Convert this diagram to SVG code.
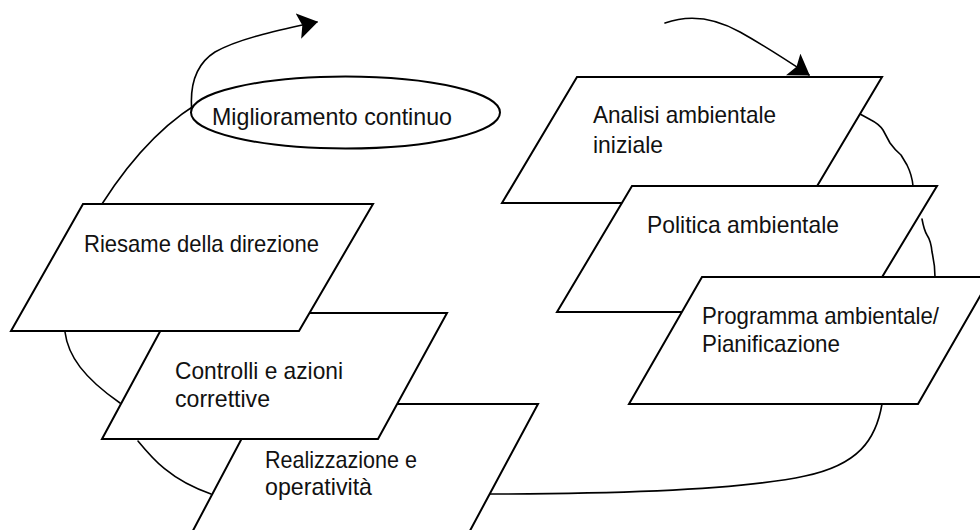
<svg xmlns="http://www.w3.org/2000/svg" width="980" height="530" viewBox="0 0 980 530">
  <style>
    .bg { fill: #ffffff; }
    .shape { fill: #ffffff; stroke: #000000; stroke-width: 2; stroke-linejoin: miter; }
    .conn { fill: none; stroke: #000000; stroke-width: 1.6; stroke-linecap: round; stroke-linejoin: round; }
    .lbl { font-family: "Liberation Sans", Arial, sans-serif; font-size: 24px; fill: #111111; }
  </style>
  <defs>
    <marker id="arrow" markerUnits="userSpaceOnUse" viewBox="0 0 20 26" refX="19" refY="13" markerWidth="20" markerHeight="26" orient="auto">
      <path d="M0,0 L20,13 L0,26 L4,13 z" fill="#000000"/>
    </marker>
  </defs>
  <rect class="bg" x="0" y="0" width="980" height="530"/>

  <g id="connectors">
    <path class="conn" d="M102,204 C125,168 160,122 211,96"/>
    <path class="conn" d="M192,113 C189,84 196,64 215,52 C240,38 280,30 317,22" marker-end="url(#arrow)"/>
    <path class="conn" d="M665,23 C690,14 715,18 740,32 C765,46 788,61 809,75" marker-end="url(#arrow)"/>
    <path class="conn" d="M860,114 L871,120 Q879,124 883,130 L890,143 Q895,150 901,155 L907,165 Q912,175 913,186"/>
    <path class="conn" d="M922,219 Q924,230 927,235 Q931,241 932,252 Q935,265 935,277"/>
    <path class="conn" d="M882,404 C876,440 858,465 805,476 C740,490 620,494 488,494"/>
    <path class="conn" d="M65,332 C68,356 84,378 120,403"/>
    <path class="conn" d="M138,441 C152,458 170,480 211,494"/>
  </g>

  <g id="node-miglioramento">
    <ellipse class="shape" cx="345.5" cy="112.5" rx="154.5" ry="36"/>
    <text class="lbl" x="212" y="125" textLength="240" lengthAdjust="spacingAndGlyphs">Miglioramento continuo</text>
  </g>

  <g id="node-analisi">
    <polygon class="shape" points="577,77 882,77 807,203 502,203"/>
    <text class="lbl" x="593" y="123" textLength="183" lengthAdjust="spacingAndGlyphs">Analisi ambientale</text>
    <text class="lbl" x="593" y="153" textLength="70" lengthAdjust="spacingAndGlyphs">iniziale</text>
  </g>

  <g id="node-politica">
    <polygon class="shape" points="632,186 937,186 861,312 557,312"/>
    <text class="lbl" x="647" y="233" textLength="192" lengthAdjust="spacingAndGlyphs">Politica ambientale</text>
  </g>

  <g id="node-programma">
    <polygon class="shape" points="702,277 991,277 918,404 629,404"/>
    <text class="lbl" x="702" y="324" textLength="237" lengthAdjust="spacingAndGlyphs">Programma ambientale/</text>
    <text class="lbl" x="702" y="352" textLength="138" lengthAdjust="spacingAndGlyphs">Pianificazione</text>
  </g>

  <g id="node-realizzazione">
    <polygon class="shape" points="260,404 538,404 465,540 188,540"/>
    <text class="lbl" x="265" y="468" textLength="152" lengthAdjust="spacingAndGlyphs">Realizzazione e</text>
    <text class="lbl" x="265" y="495" textLength="107" lengthAdjust="spacingAndGlyphs">operatività</text>
  </g>

  <g id="node-controlli">
    <polygon class="shape" points="170,313 447,313 378,439 102,439"/>
    <text class="lbl" x="175" y="379" textLength="168" lengthAdjust="spacingAndGlyphs">Controlli e azioni</text>
    <text class="lbl" x="175" y="407" textLength="95" lengthAdjust="spacingAndGlyphs">correttive</text>
  </g>

  <g id="node-riesame">
    <polygon class="shape" points="83,204 373,204 299,331 11,331"/>
    <text class="lbl" x="84" y="252" textLength="235" lengthAdjust="spacingAndGlyphs">Riesame della direzione</text>
  </g>
</svg>
